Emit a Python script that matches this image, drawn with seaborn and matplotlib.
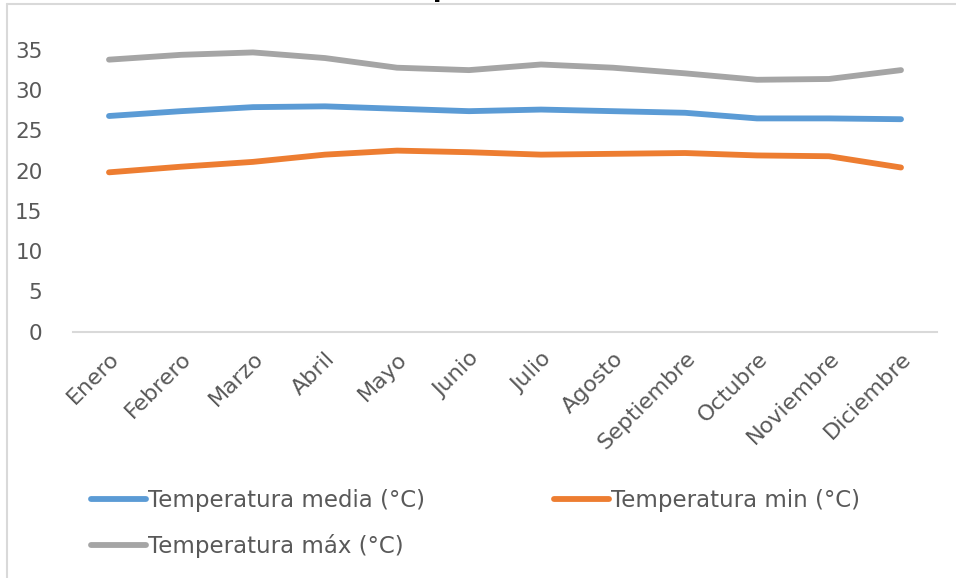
import matplotlib
matplotlib.use('Agg')
import matplotlib.pyplot as plt
import seaborn as sns
import pandas as pd
from matplotlib.lines import Line2D

meses = ['Enero', 'Febrero', 'Marzo', 'Abril', 'Mayo', 'Junio', 'Julio',
         'Agosto', 'Septiembre', 'Octubre', 'Noviembre', 'Diciembre']
temp_media = [26.8, 27.4, 27.9, 28.0, 27.7, 27.4, 27.6, 27.4, 27.2, 26.5, 26.5, 26.4]
temp_min = [19.8, 20.5, 21.1, 22.0, 22.5, 22.3, 22.0, 22.1, 22.2, 21.9, 21.8, 20.4]
temp_max = [33.8, 34.4, 34.7, 34.0, 32.8, 32.5, 33.2, 32.8, 32.1, 31.3, 31.4, 32.5]

series = {
    'Temperatura media (°C)': (temp_media, '#5B9BD5'),
    'Temperatura min (°C)': (temp_min, '#ED7D31'),
    'Temperatura máx (°C)': (temp_max, '#A5A5A5'),
}

sns.set_style('white')
plt.rcParams['font.family'] = ['DejaVu Sans']
text_col = '#595959'

fig = plt.figure(figsize=(9.56, 5.78), dpi=100)
ax = fig.add_axes([73 / 956, 1 - 331.7 / 578, 864 / 956, (331.7 - 50) / 578])

handles = {}
for name, (vals, col) in series.items():
    df = pd.DataFrame({'mes': meses, 'valor': vals})
    sns.lineplot(data=df, x='mes', y='valor', ax=ax, color=col, linewidth=4.2,
                 solid_capstyle='round', clip_on=False)
    handles[name] = Line2D([], [], color=col, linewidth=4.2, solid_capstyle='round')

ax.set_xlim(-0.5, 11.5)
ax.set_ylim(0, 35)
ax.set_yticks(range(0, 36, 5))
ax.set_xlabel('')
ax.set_ylabel('')
for s in ['top', 'right', 'left']:
    ax.spines[s].set_visible(False)
ax.spines['bottom'].set_color('#d9d9d9')
ax.spines['bottom'].set_linewidth(1.5)
ax.tick_params(axis='both', length=0, labelcolor=text_col)
ax.tick_params(axis='y', pad=22, labelsize=15.5)
ax.tick_params(axis='x', pad=12, labelsize=16)
plt.setp(ax.get_xticklabels(), rotation=45, ha='right', rotation_mode='anchor')

order = ['Temperatura media (°C)', 'Temperatura máx (°C)', 'Temperatura min (°C)']
leg = fig.legend([handles[k] for k in order], order, ncol=2, frameon=False,
                 loc='upper left', bbox_to_anchor=(82 / 956, 1 - 480 / 578),
                 fontsize=16.5, handlelength=2.4, handletextpad=0.1,
                 columnspacing=5.6, labelspacing=0.95, borderaxespad=0)
for t in leg.get_texts():
    t.set_color(text_col)

# chart frame (top and left edges visible in the crop)
fig.add_artist(Line2D([6.5 / 956, 1], [1 - 4 / 578, 1 - 4 / 578], color='#d9d9d9', lw=1.5))
fig.add_artist(Line2D([6.5 / 956, 6.5 / 956], [0, 1 - 4 / 578], color='#d9d9d9', lw=1.5))

# title sits above the cropped area, only its descender shows
fig.text(467 / 956, 1 + 3 / 578, 'Temperatura', ha='center', va='baseline',
         fontsize=18, fontweight='bold', color='black')

fig.savefig('out.png', dpi=100)
